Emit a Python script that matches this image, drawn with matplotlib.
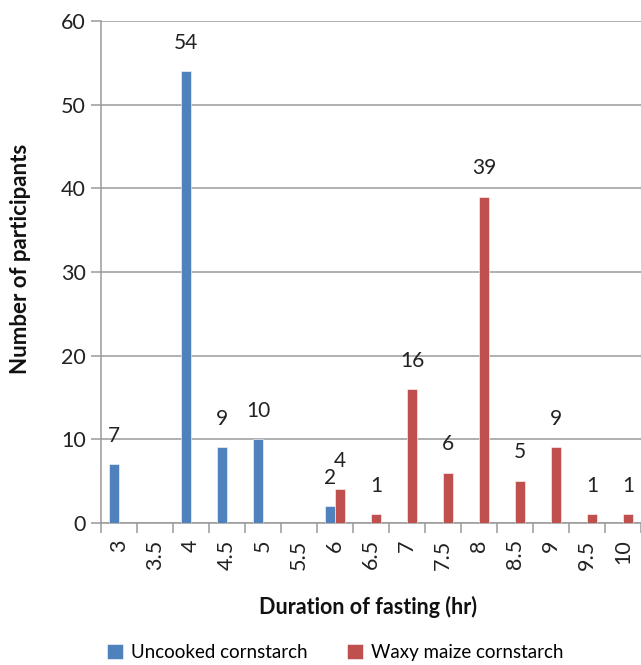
import matplotlib
matplotlib.use("Agg")
import matplotlib.pyplot as plt
import numpy as np

# Fasting durations (hr) and participant counts per starch type
durations = ["3", "3.5", "4", "4.5", "5", "5.5", "6", "6.5", "7", "7.5",
             "8", "8.5", "9", "9.5", "10"]
uncooked = [7, 0, 54, 9, 10, 0, 2, 0, 0, 0, 0, 0, 0, 0, 0]
waxy = [0, 0, 0, 0, 0, 0, 4, 1, 16, 6, 39, 5, 9, 1, 1]
series_names = ["Uncooked cornstarch", "Waxy maize cornstarch"]
series_colors = ["#4F81BD", "#C0504D"]

plt.rcParams["font.family"] = ["Lato", "DejaVu Sans"]

fig = plt.figure(figsize=(6.41, 6.65), dpi=100)
ax = fig.add_axes([0.1576, 0.214, 0.8424, 0.754])

x = np.arange(len(durations))
w = 0.28
grey = "#9A9A9A"
txt = "#222222"

for vals, off, col, name in [(uncooked, -w / 2, series_colors[0], series_names[0]),
                             (waxy, w / 2, series_colors[1], series_names[1])]:
    vals = np.array(vals, dtype=float)
    heights = np.where(vals > 0, vals, np.nan)
    ax.bar(x + off, heights, width=w, color=col, edgecolor="white",
           linewidth=0.4, label=name, zorder=3)
    for xi, v in zip(x + off, vals):
        if v > 0:
            ax.annotate(f"{int(v)}", (xi, v), xytext=(0, 20.5),
                        textcoords="offset points", ha="center", va="center",
                        fontsize=15, color=txt)

ax.set_xlim(-0.5, len(durations) - 0.5)
ax.set_ylim(0, 60)
ax.set_yticks(np.arange(0, 61, 10))
ax.yaxis.grid(True, color=grey, linewidth=1.1, zorder=0)
ax.set_axisbelow(True)

ax.set_xticks(x)
ax.set_xticklabels(durations, rotation=90, fontsize=15.5, color=txt)
ax.set_xticks(np.arange(-0.5, len(durations)), minor=True)
ax.tick_params(axis="x", which="major", length=0, pad=12)
ax.tick_params(axis="x", which="minor", length=7, width=1.1, color=grey)
ax.tick_params(axis="y", length=7, width=1.1, color=grey, labelsize=15.5,
               labelcolor=txt, pad=4)

for s in ["top", "right"]:
    ax.spines[s].set_visible(False)
for s in ["left", "bottom"]:
    ax.spines[s].set_color(grey)
    ax.spines[s].set_linewidth(1.1)

ax.set_ylabel("Number of participants", fontsize=16, fontweight="bold",
              color="#111111")
ax.yaxis.set_label_coords(-0.15, 0.526)
ax.yaxis.label.set_verticalalignment("center")
ax.set_xlabel("Duration of fasting (hr)", fontsize=15.5, fontweight="bold",
              color="#111111")
ax.xaxis.set_label_coords(0.495, -0.168)
ax.xaxis.label.set_verticalalignment("center")

fig.legend(loc="center", bbox_to_anchor=(0.523, 0.0195), ncol=2, frameon=False,
           fontsize=13.5, handlelength=0.85, handleheight=0.85, columnspacing=2.1,
           handletextpad=0.45)

fig.savefig("out.png", dpi=100)
